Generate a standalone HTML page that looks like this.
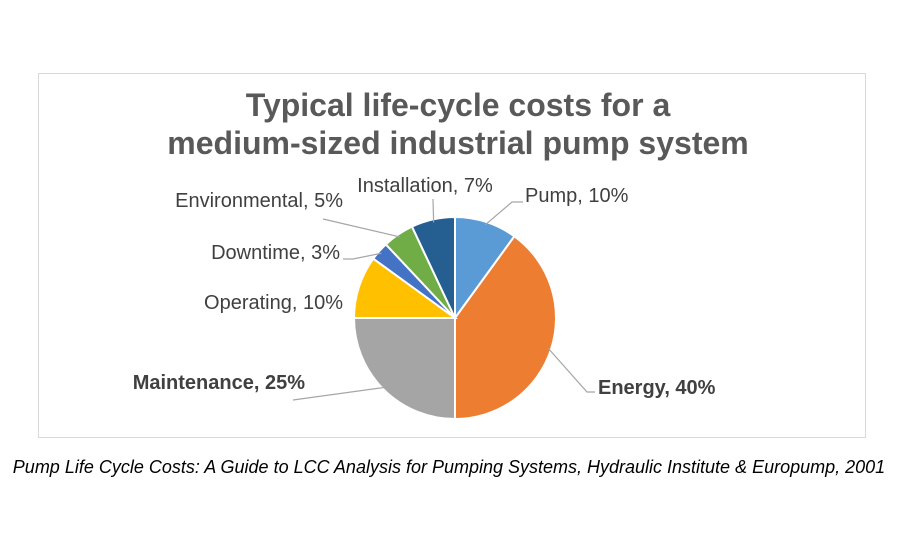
<!DOCTYPE html>
<html><head><meta charset="utf-8"><style>
body{margin:0;background:#fff;width:900px;height:550px;overflow:hidden;font-family:"Liberation Sans",sans-serif}
</style></head><body>
<svg width="900" height="550">
<rect x="38.5" y="73.5" width="827" height="364" fill="#fff" stroke="#d9d9d9"/>
<text x="458" y="116" text-anchor="middle" font-size="32" font-weight="bold" fill="#595959">Typical life-cycle costs for a</text>
<text x="458" y="154" text-anchor="middle" font-size="32" font-weight="bold" fill="#595959">medium-sized industrial pump system</text>
<g id="pie"></g>
<g id="labels" font-size="20" fill="#404040"></g>
<text x="449" y="473" text-anchor="middle" font-size="18" font-style="italic" fill="#000">Pump Life Cycle Costs: A Guide to LCC Analysis for Pumping Systems, Hydraulic Institute &amp; Europump, 2001</text>
</svg>
<script>
const categories=["Pump","Energy","Maintenance","Operating","Downtime","Environmental","Installation"];
const values=[10,40,25,10,3,5,7];
const colors=["#5B9BD5","#ED7D31","#A5A5A5","#FFC000","#4472C4","#70AD47","#255E91"];
const bold=[false,true,true,false,false,false,false];
const NS="http://www.w3.org/2000/svg";
const cx=455,cy=318,r=101;
const total=values.reduce((a,b)=>a+b,0);
const pie=document.getElementById('pie'),lab=document.getElementById('labels');
const lp=[[525,202,"start",512,202],[598,394,"start",587,392],[305,389,"end",293,400],[343,309,"end",null,null],[340,259,"end",353,259],[343,207,"end",323,219],[425,192,"middle",433,199]];
function pt(a,rr){return [cx+rr*Math.sin(a),cy-rr*Math.cos(a)];}
let acc=0;
values.forEach((v,i)=>{
 const a0=acc/total*2*Math.PI;acc+=v;const a1=acc/total*2*Math.PI;
 const [x0,y0]=pt(a0,r),[x1,y1]=pt(a1,r);
 const p=document.createElementNS(NS,'path');
 p.setAttribute('d',`M${cx},${cy}L${x0},${y0}A${r},${r} 0 ${a1-a0>Math.PI?1:0} 1 ${x1},${y1}Z`);
 p.setAttribute('fill',colors[i]);p.setAttribute('stroke','#fff');p.setAttribute('stroke-width','2');
 
 
 pie.appendChild(p);
 const L=lp[i];
 if(L[3]!==null){
  const am=(a0+a1)/2;const [mx,my]=pt(am,r*0.97);
  const ex=i==1?595:(i==4?343:(i==0?523:L[3]));
  const l=document.createElementNS(NS,'polyline');
  l.setAttribute('points',`${mx},${my} ${L[3]},${L[4]} ${ex},${L[4]}`);
  l.setAttribute('fill','none');l.setAttribute('stroke','#a6a6a6');l.setAttribute('stroke-width','1.2');
  
  
  lab.appendChild(l);
 }
 const t=document.createElementNS(NS,'text');
 t.setAttribute('x',L[0]);t.setAttribute('y',L[1]);t.setAttribute('text-anchor',L[2]);
 if(bold[i])t.setAttribute('font-weight','bold');
 t.textContent=categories[i]+", "+v+"%";
 
 
 lab.appendChild(t);
});
</script>
</body></html>
